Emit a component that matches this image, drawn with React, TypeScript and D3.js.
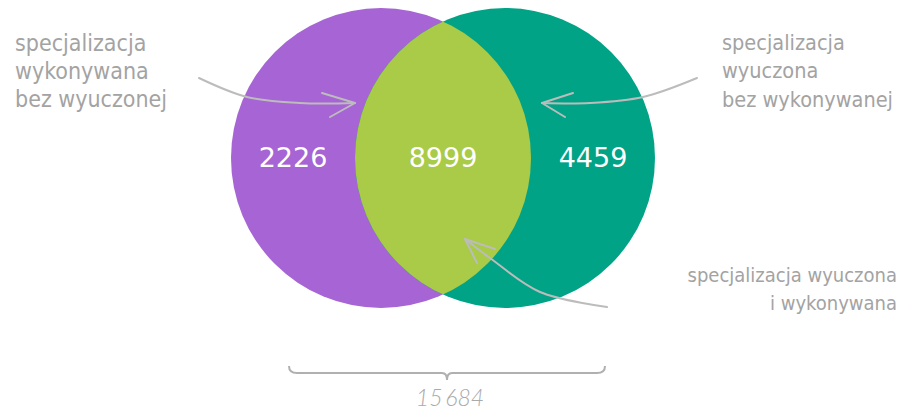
import React from "react";
import * as d3 from "d3";

const W = 909;
const H = 412;

// Data
const setNames = ["specjalizacja wykonywana bez wyuczonej", "specjalizacja wyuczona i wykonywana", "specjalizacja wyuczona bez wykonywanej"];
const regionValues = [2226, 8999, 4459];
const totalValue = 15684;
const leftLabel = ["specjalizacja", "wykonywana", "bez wyuczonej"];
const rightLabel = ["specjalizacja", "wyuczona", "bez wykonywanej"];
const bottomLabel = ["specjalizacja wyuczona", "i wykonywana"];

const PURPLE = "#a664d4";
const TEAL = "#00a386";
const LIME = "#a9cb48";
const GRAY = "#a3a3a3";
const ARROW = "#bcbcbc";

const hand = "'Liberation Sans Narrow', 'DejaVu Sans Condensed', 'Open Sans', sans-serif";

export default function App() {
  const x = d3.scaleLinear().domain([0, 1]).range([381, 505]); // circle centres
  const cy = 158;
  const r = 150;

  const lx = x(0);
  const rx = x(1);
  const lensLeft = rx - r;
  const lensRight = lx + r;
  const regionX = [(lx - r + lensLeft) / 2, (lensLeft + lensRight) / 2, (lensRight + rx + r) / 2];

  const curve = d3.line<[number, number]>().curve(d3.curveCatmullRom.alpha(0.5));
  const straight = d3.line<[number, number]>();

  const arrows: { pts: [number, number][]; head: [number, number][] }[] = [
    { pts: [[199, 78], [247, 97], [300, 103], [355, 103]], head: [[322, 93], [355, 103], [330, 117]] },
    { pts: [[697, 78], [643, 97], [590, 103], [542, 103]], head: [[573, 93], [542, 103], [565, 117]] },
    { pts: [[607, 307], [540, 292], [490, 258], [465, 239]], head: [[495, 249], [465, 239], [477, 263]] },
  ];

  const bx0 = 289, bx1 = 605, by = 373, bmid = 447;
  const bracket = `M${bx0},366 Q${bx0},${by} ${bx0 + 8},${by} L${bmid - 5},${by} Q${bmid},${by} ${bmid},380 Q${bmid},${by} ${bmid + 5},${by} L${bx1 - 8},${by} Q${bx1},${by} ${bx1},366`;

  const fmt = (v: number) => d3.format(",")(v).replace(/,/g, "\u2009");

  return (
    <svg width={W} height={H} style={{ display: "block", position: "absolute", left: 0, top: 0 }}>
      <defs>
        <clipPath id="leftClip">
          <circle cx={lx} cy={cy} r={r} />
        </clipPath>
      </defs>
      <rect width={W} height={H} fill="#fff" />
      <circle cx={lx} cy={cy} r={r} fill={PURPLE} />
      <circle cx={rx} cy={cy} r={r} fill={TEAL} />
      <circle cx={rx} cy={cy} r={r} fill={LIME} clipPath="url(#leftClip)" />

      {regionValues.map((v, i) => (
        <text key={i} x={regionX[i]} y={167} textAnchor="middle" fill="#fff"
          fontFamily="'DejaVu Sans', sans-serif" fontSize={27}>{v}</text>
      ))}

      {arrows.map((a, i) => (
        <g key={i} fill="none" stroke={ARROW} strokeWidth={2} strokeLinecap="round" strokeLinejoin="round">
          <path d={curve(a.pts) || ""} />
          <path d={straight(a.head) || ""} />
        </g>
      ))}

      <g fill={GRAY} fontFamily={hand}>
        {leftLabel.map((t, i) => (
          <text key={"l" + i} x={15} y={[51, 79, 107][i]} fontSize={23}>{t}</text>
        ))}
        {rightLabel.map((t, i) => (
          <text key={"r" + i} x={722} y={[50, 78, 107][i]} fontSize={21.5}>{t}</text>
        ))}
        {bottomLabel.map((t, i) => (
          <text key={"b" + i} x={897} y={[282, 310][i]} textAnchor="end" fontSize={20}>{t}</text>
        ))}
      </g>

      <path d={bracket} fill="none" stroke="#b0b0b0" strokeWidth={2} />
      <text x={bmid + 3} y={406} textAnchor="middle" fill="#aaa" fontFamily="Lato, sans-serif"
        fontStyle="italic" fontWeight={300} fontSize={23}>{fmt(totalValue)}</text>
      <title>{setNames.join(" / ")}</title>
    </svg>
  );
}
